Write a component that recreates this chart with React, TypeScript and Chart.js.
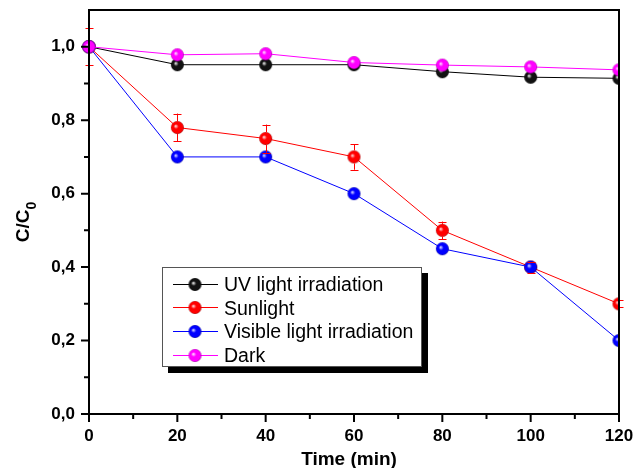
import React, { useEffect, useRef } from 'react';
import { Chart, registerables } from 'chart.js';

Chart.register(...registerables);

const times = [0, 20, 40, 60, 80, 100, 120];
const uvValues = [1.0, 0.951, 0.951, 0.951, 0.932, 0.917, 0.914];
const sunValues = [1.0, 0.78, 0.75, 0.70, 0.50, 0.40, 0.30];
const sunErrors = [0.05, 0.038, 0.038, 0.035, 0.024, 0.015, 0.01];
const visibleValues = [1.0, 0.70, 0.70, 0.60, 0.45, 0.40, 0.20];
const darkValues = [1.0, 0.978, 0.981, 0.957, 0.95, 0.945, 0.937];
const seriesNames = ['UV light irradiation', 'Sunlight', 'Visible light irradiation', 'Dark'];
const xTickStep = 10;
const yTickStep = 0.1;
const xTitle = 'Time (min)';
const yTitleMain = 'C/C';
const yTitleSub = '0';

const FONT = "'Liberation Sans', Arial, sans-serif";

function makeSphere(light: string, mid: string, dark: string): HTMLCanvasElement {
  const s = 15;
  const c = document.createElement('canvas');
  c.width = s;
  c.height = s;
  const ctx = c.getContext('2d')!;
  const cx = s / 2;
  const cy = s / 2;
  const r = 6.5;
  const g = ctx.createRadialGradient(cx - 1.8, cy - 1.5, 0.3, cx, cy, r);
  g.addColorStop(0, light);
  g.addColorStop(0.35, mid);
  g.addColorStop(0.85, mid);
  g.addColorStop(1, dark);
  ctx.fillStyle = g;
  ctx.beginPath();
  ctx.arc(cx, cy, r, 0, Math.PI * 2);
  ctx.fill();
  return c;
}

export default function App() {
  const ref = useRef<HTMLCanvasElement>(null);

  useEffect(() => {
    const canvas = ref.current!;
    const colors = ['#000000', '#ff0000', '#0000ff', '#ff00ff'];
    const markers = [
      makeSphere('#e8e8e8', '#111111', '#000000'),
      makeSphere('#ffd8d8', '#ff0000', '#a00000'),
      makeSphere('#d8d8ff', '#0000ff', '#00009a'),
      makeSphere('#ffd8ff', '#ff00ff', '#a000a0'),
    ];
    const valuesList = [uvValues, sunValues, visibleValues, darkValues];
    const orders = [3, 2, 1, 0];

    const datasets = valuesList.map((vals, i) => ({
      label: seriesNames[i],
      data: times.map((t, j) => ({ x: t, y: vals[j] })),
      borderColor: colors[i],
      backgroundColor: colors[i],
      borderWidth: 1,
      pointStyle: markers[i] as any,
      pointRadius: 6.5,
      pointHoverRadius: 6.5,
      order: orders[i],
      tension: 0,
      fill: false,
      clip: { left: 10, top: 10, right: 1, bottom: 10 } as any,
    }));

    const isMajorX = (v: number) => Math.round(v) % 20 === 0;
    const isMajorY = (v: number) => Math.round(v * 10) % 2 === 0;

    const decor = {
      id: 'decor',
      afterDatasetsDraw(chart: any) {
        const { ctx, chartArea: a, scales } = chart;
        const xs = scales.x;
        const ys = scales.y;
        ctx.save();

        // error bars for Sunlight
        const meta = chart.getDatasetMeta(1);
        ctx.strokeStyle = '#ff0000';
        ctx.lineWidth = 1;
        meta.data.forEach((pt: any, j: number) => {
          const x = Math.round(pt.x) + 0.5;
          const yc = pt.y;
          const yt = ys.getPixelForValue(sunValues[j] + sunErrors[j]);
          const yb = ys.getPixelForValue(sunValues[j] - sunErrors[j]);
          const r = 6.5;
          ctx.beginPath();
          if (yc - yt > r) {
            ctx.moveTo(x, yt);
            ctx.lineTo(x, yc - r);
            ctx.moveTo(x, yc + r);
            ctx.lineTo(x, yb);
          }
          ctx.moveTo(x - 4, Math.round(yt) + 0.5);
          ctx.lineTo(x + 4, Math.round(yt) + 0.5);
          ctx.moveTo(x - 4, Math.round(yb) + 0.5);
          ctx.lineTo(x + 4, Math.round(yb) + 0.5);
          ctx.stroke();
        });

        // frame
        ctx.strokeStyle = '#000';
        ctx.lineWidth = 2;
        ctx.strokeRect(a.left, a.top, a.right - a.left, a.bottom - a.top);

        // tick marks
        ctx.beginPath();
        xs.ticks.forEach((t: any) => {
          const px = xs.getPixelForValue(t.value);
          const len = isMajorX(t.value) ? 8 : 5;
          ctx.moveTo(px, a.bottom);
          ctx.lineTo(px, a.bottom + len);
        });
        ys.ticks.forEach((t: any) => {
          if (t.value > 1.05) return;
          const py = ys.getPixelForValue(t.value);
          const len = isMajorY(t.value) ? 8 : 5;
          ctx.moveTo(a.left, py);
          ctx.lineTo(a.left - len, py);
        });
        ctx.stroke();

        // legend box
        const L = 162, T = 267, W = 260, H = 100;
        ctx.fillStyle = '#000';
        ctx.fillRect(L + 6, T + 6, W, H);
        ctx.fillStyle = '#fff';
        ctx.fillRect(L, T, W, H);
        ctx.strokeStyle = '#555';
        ctx.lineWidth = 1;
        ctx.strokeRect(L + 0.5, T + 0.5, W - 1, H - 1);
        const baselines = [291, 314.5, 338, 362];
        ctx.font = `19.5px ${FONT}`;
        ctx.textAlign = 'left';
        ctx.textBaseline = 'alphabetic';
        seriesNames.forEach((name, i) => {
          const yb = baselines[i];
          const ym = Math.round(yb - 7.5) + 0.5;
          ctx.strokeStyle = colors[i];
          ctx.lineWidth = 1;
          ctx.beginPath();
          ctx.moveTo(173, ym);
          ctx.lineTo(218, ym);
          ctx.stroke();
          const m = markers[i];
          ctx.drawImage(m, 195 - m.width / 2, ym - m.height / 2);
          ctx.fillStyle = '#000';
          ctx.fillText(name, 224, yb);
        });

        // x title
        ctx.fillStyle = '#000';
        ctx.font = `bold 19px ${FONT}`;
        ctx.textAlign = 'center';
        ctx.textBaseline = 'alphabetic';
        ctx.fillText(xTitle, (a.left + a.right) / 2 - 5, 465);

        // y title
        ctx.save();
        ctx.translate(29, 222);
        ctx.rotate(-Math.PI / 2);
        ctx.font = `bold 19px ${FONT}`;
        const wMain = ctx.measureText(yTitleMain).width;
        ctx.font = `bold 14px ${FONT}`;
        const wSub = ctx.measureText(yTitleSub).width;
        const start = -(wMain + wSub) / 2;
        ctx.textAlign = 'left';
        ctx.font = `bold 19px ${FONT}`;
        ctx.fillText(yTitleMain, start, 0);
        ctx.font = `bold 14px ${FONT}`;
        ctx.fillText(yTitleSub, start + wMain, 7);
        ctx.restore();

        ctx.restore();
      },
    };

    const chart = new Chart(canvas, {
      type: 'line',
      data: { datasets },
      options: {
        animation: false,
        responsive: false,
        events: [],
        layout: { padding: { left: 0, right: 16, top: 10, bottom: 0 } },
        plugins: { legend: { display: false }, tooltip: { enabled: false } },
        scales: {
          x: {
            type: 'linear',
            min: 0,
            max: 120,
            grid: { display: false, drawTicks: true, tickLength: 8 },
            border: { display: false },
            ticks: {
              stepSize: xTickStep,
              autoSkip: false,
              maxRotation: 0,
              padding: 4,
              color: '#000',
              font: { family: FONT, size: 17, weight: 'bold' },
              callback: (v: any) => (isMajorX(Number(v)) ? String(Math.round(Number(v))) : ''),
            },
            afterFit: (s: any) => {
              s.height = 54;
              s.paddingLeft = 0;
              s.paddingRight = 0;
              s.paddingTop = 0;
              s.paddingBottom = 0;
            },
          },
          y: {
            type: 'linear',
            min: 0,
            max: 1.1,
            grid: { display: false, drawTicks: true, tickLength: 8 },
            border: { display: false },
            ticks: {
              stepSize: yTickStep,
              autoSkip: false,
              includeBounds: false,
              padding: 6,
              color: '#000',
              font: { family: FONT, size: 17, weight: 'bold' },
              callback: (v: any) => {
                const n = Number(v);
                return isMajorY(n) && n < 1.05 ? n.toFixed(1).replace('.', ',') : '';
              },
            },
            afterFit: (s: any) => {
              s.width = 89;
              s.paddingLeft = 0;
              s.paddingRight = 0;
              s.paddingTop = 0;
              s.paddingBottom = 0;
            },
          },
        },
      },
      plugins: [decor],
    } as any);

    return () => chart.destroy();
  }, []);

  return (
    <div style={{ position: 'fixed', left: 0, top: 0, width: 635, height: 468, background: '#fff' }}>
      <canvas ref={ref} width={635} height={468} style={{ display: 'block' }} />
    </div>
  );
}
